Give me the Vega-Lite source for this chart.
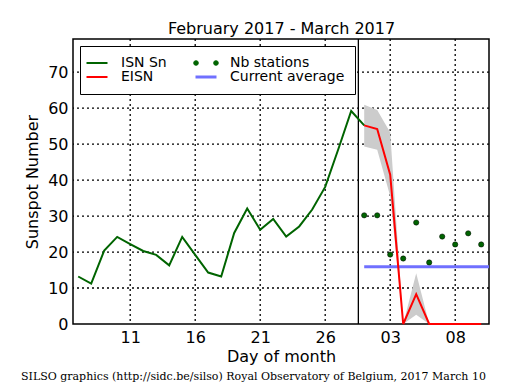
{
  "$schema": "https://vega.github.io/schema/vega-lite/v6.json",
  "width": 416,
  "height": 285,
  "autosize": "none",
  "padding": {"left": 73, "top": 39, "right": 26, "bottom": 66},
  "background": "white",
  "config": {
    "font": "DejaVu Sans",
    "view": {"stroke": "black", "strokeWidth": 1.5},
    "axis": {"domain": false, "tickColor": "black", "labelColor": "black", "titleColor": "black", "titleFontWeight": "normal", "labelFontSize": 16, "titleFontSize": 16, "tickSize": 0, "labelOverlap": false, "labelFlush": false, "grid": false}
  },
  "title": {
    "text": "SILSO graphics (http://sidc.be/silso) Royal Observatory of Belgium, 2017 March 10",
    "orient": "bottom", "anchor": "start", "frame": "group", "dx": -52, "offset": 7,
    "font": "DejaVu Serif", "fontSize": 11, "fontWeight": "normal", "color": "black"
  },
  "datasets": {
    "isn": [
      {"d": 7, "v": 13.2}, {"d": 8, "v": 11.2}, {"d": 9, "v": 20.4}, {"d": 10, "v": 24.2},
      {"d": 11, "v": 22.2}, {"d": 12, "v": 20.3}, {"d": 13, "v": 19.2}, {"d": 14, "v": 16.3},
      {"d": 15, "v": 24.2}, {"d": 16, "v": 19.2}, {"d": 17, "v": 14.3}, {"d": 18, "v": 13.2},
      {"d": 19, "v": 25.3}, {"d": 20, "v": 32.1}, {"d": 21, "v": 26.2}, {"d": 22, "v": 29.2},
      {"d": 23, "v": 24.3}, {"d": 24, "v": 27.1}, {"d": 25, "v": 31.8}, {"d": 26, "v": 38.1},
      {"d": 27, "v": 48.5}, {"d": 28, "v": 59.2}, {"d": 29, "v": 55.2}
    ],
    "eisn": [
      {"d": 29, "v": 55.2, "lo": 49.3, "hi": 60.9},
      {"d": 30, "v": 54.2, "lo": 48.4, "hi": 59.5},
      {"d": 31, "v": 41.5, "lo": 35.5, "hi": 53.2},
      {"d": 32, "v": 0, "lo": 0, "hi": 0},
      {"d": 33, "v": 8.3, "lo": 2.6, "hi": 14.1},
      {"d": 34, "v": 0, "lo": 0, "hi": 0},
      {"d": 35, "v": 0, "lo": 0, "hi": 0},
      {"d": 36, "v": 0, "lo": 0, "hi": 0},
      {"d": 37, "v": 0, "lo": 0, "hi": 0},
      {"d": 38, "v": 0, "lo": 0, "hi": 0}
    ],
    "nb": [
      {"d": 29, "v": 30.2}, {"d": 30, "v": 30.2}, {"d": 31, "v": 19.3}, {"d": 32, "v": 18.2},
      {"d": 33, "v": 28.2}, {"d": 34, "v": 17.1}, {"d": 35, "v": 24.3}, {"d": 36, "v": 22.1},
      {"d": 37, "v": 25.2}, {"d": 38, "v": 22.1}
    ],
    "avg": [{"d": 29, "v": 15.9}, {"d": 38.6, "v": 15.9}],
    "vline": [{"d": 28.55}],
    "xgrid": [{"d": 11}, {"d": 16}, {"d": 21}, {"d": 26}, {"d": 31}, {"d": 36}],
    "ygrid": [{"v": 10}, {"v": 20}, {"v": 30}, {"v": 40}, {"v": 50}, {"v": 60}, {"v": 70}]
  },
  "resolve": {"axis": {"x": "independent", "y": "independent"}},
  "layer": [
    {
      "data": {"name": "xgrid"},
      "mark": {"type": "rule", "color": "#000000", "strokeWidth": 1.3, "strokeDash": [2, 3], "opacity": 1},
      "encoding": {"x": {"field": "d", "type": "quantitative", "scale": {"domain": [6.6, 38.6], "nice": false, "zero": false}, "axis": null}}
    },
    {
      "data": {"name": "ygrid"},
      "mark": {"type": "rule", "color": "#000000", "strokeWidth": 1.3, "strokeDash": [2, 3], "opacity": 1},
      "encoding": {"y": {"field": "v", "type": "quantitative", "scale": {"domain": [0, 79.2], "nice": false, "zero": false}, "axis": null}}
    },
    {
      "data": {"name": "vline"},
      "mark": {"type": "rule", "color": "black", "strokeWidth": 1.3},
      "encoding": {"x": {"field": "d", "type": "quantitative",
        "axis": {"orient": "bottom", "values": [7,8,9,10,11,12,13,14,15,16,17,18,19,20,21,22,23,24,25,26,27,28,29,30,31,32,33,34,35,36,37,38],
          "labels": false, "title": null,
          "encode": {"ticks": {"update": {"y2": {"value": -3}}}}}}}
    },
    {
      "data": {"name": "eisn"},
      "mark": {"type": "area", "color": "#cccccc", "interpolate": "linear"},
      "encoding": {
        "x": {"field": "d", "type": "quantitative",
          "axis": {"orient": "top", "values": [7,8,9,10,11,12,13,14,15,16,17,18,19,20,21,22,23,24,25,26,27,28,29,30,31,32,33,34,35,36,37,38],
            "labels": false, "title": "February 2017 - March 2017", "titlePadding": 2,
            "encode": {"ticks": {"update": {"y2": {"signal": "(datum.value - 11) % 5 === 0 ? 6 : 3"}}}}}},
        "y": {"field": "lo", "type": "quantitative",
          "axis": {"orient": "left", "values": [0,2,4,6,8,10,12,14,16,18,20,22,24,26,28,30,32,34,36,38,40,42,44,46,48,50,52,54,56,58,60,62,64,66,68,70,72,74,76,78],
            "labels": false, "title": null,
            "encode": {"ticks": {"update": {"x2": {"value": 3}}}}}},
        "y2": {"field": "hi"}
      }
    },
    {
      "data": {"name": "isn"},
      "mark": {"type": "line", "strokeWidth": 2},
      "encoding": {
        "x": {"field": "d", "type": "quantitative",
          "axis": {"orient": "bottom", "values": [11, 16, 21, 26, 31, 36],
            "labelExpr": "datum.value > 28 ? '0' + (datum.value - 28) : '' + datum.value",
            "labelPadding": 5, "title": "Day of month", "titlePadding": 3,
            "encode": {"ticks": {"update": {"y2": {"value": -6}}}}}},
        "y": {"field": "v", "type": "quantitative",
          "axis": {"orient": "left", "values": [0, 10, 20, 30, 40, 50, 60, 70],
            "labelPadding": 5, "title": "Sunspot Number", "titlePadding": 7,
            "encode": {"ticks": {"update": {"x2": {"value": 6}}}}}},
        "color": {"datum": "ISN Sn", "type": "nominal",
          "scale": {"domain": ["ISN Sn", "EISN", "Nb stations", "Current average"], "range": ["#006400", "#ff0000", "#006400", "#7070ff"]},
          "legend": {
            "title": null, "orient": "none", "legendX": 7, "legendY": 7, "columns": 2,
            "labelFontSize": 14, "labelFont": "DejaVu Sans", "labelColor": "black",
            "strokeColor": "black", "fillColor": "white", "padding": 10, "cornerRadius": 0,
            "columnPadding": 22, "rowPadding": -4.5, "labelOffset": 17, "symbolSize": 441, "symbolStrokeWidth": 2,
            "encode": {"symbols": {"update": {
              "shape": {"signal": "datum.value === 'Nb stations' ? 'M -1.19 0 A 0.24 0.24 0 1 0 -0.71 0 A 0.24 0.24 0 1 0 -1.19 0 Z M 0.71 0 A 0.24 0.24 0 1 0 1.19 0 A 0.24 0.24 0 1 0 0.71 0 Z' : 'stroke'"},
              "fill": {"scale": "color", "field": "value"},
              "stroke": {"signal": "datum.value === 'Nb stations' ? '#000000' : scale('color', datum.value)"},
              "strokeWidth": {"signal": "datum.value === 'Nb stations' ? 0.5 : (datum.value === 'Current average' ? 3 : 2)"},
              "opacity": {"value": 1},
              "size": {"value": 441}
            }}}
          }}
      }
    },
    {
      "data": {"name": "avg"},
      "mark": {"type": "line", "strokeWidth": 3},
      "encoding": {
        "x": {"field": "d", "type": "quantitative", "axis": null},
        "y": {"field": "v", "type": "quantitative",
          "axis": {"orient": "right", "values": [0,2,4,6,8,10,12,14,16,18,20,22,24,26,28,30,32,34,36,38,40,42,44,46,48,50,52,54,56,58,60,62,64,66,68,70,72,74,76,78],
            "labels": false, "title": null,
            "encode": {"ticks": {"update": {"x2": {"signal": "datum.value % 10 === 0 ? -6 : -3"}}}}}},
        "color": {"datum": "Current average", "type": "nominal"}
      }
    },
    {
      "data": {"name": "eisn"},
      "mark": {"type": "line", "strokeWidth": 2},
      "encoding": {
        "x": {"field": "d", "type": "quantitative", "axis": null},
        "y": {"field": "v", "type": "quantitative", "axis": null},
        "color": {"datum": "EISN", "type": "nominal"}
      }
    },
    {
      "data": {"name": "nb"},
      "mark": {"type": "point", "filled": true, "size": 28, "stroke": "black", "strokeWidth": 0.5, "opacity": 1},
      "encoding": {
        "x": {"field": "d", "type": "quantitative", "axis": null},
        "y": {"field": "v", "type": "quantitative", "axis": null},
        "color": {"datum": "Nb stations", "type": "nominal"}
      }
    }
  ]
}
